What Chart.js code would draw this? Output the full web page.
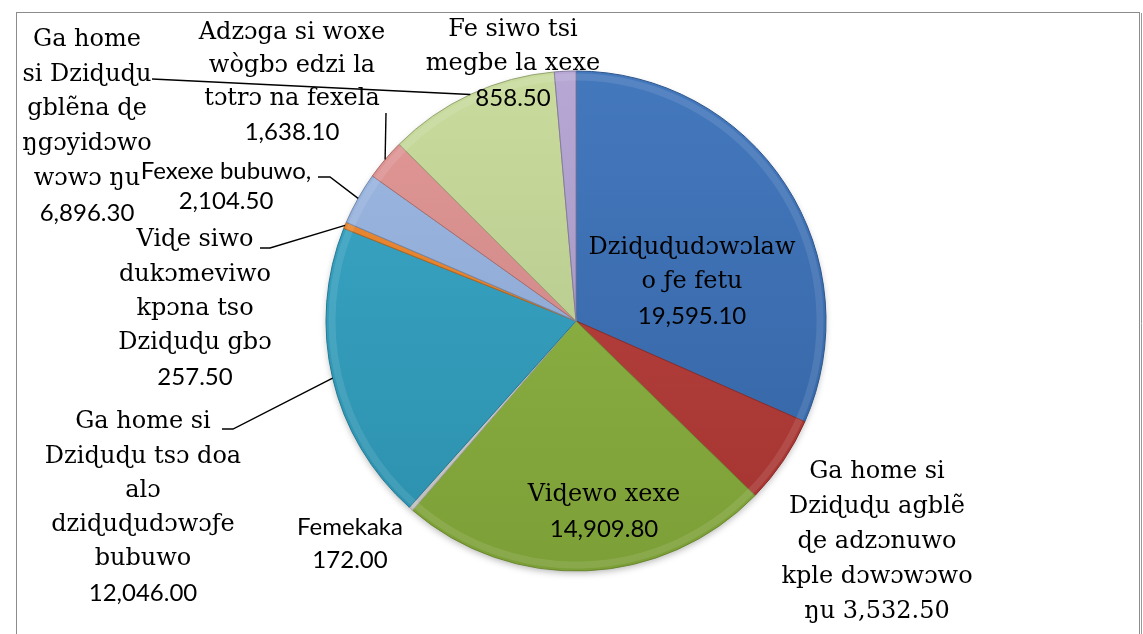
<!DOCTYPE html>
<html>
<head>
<meta charset="utf-8">
<script src="https://cdn.jsdelivr.net/npm/chart.js@4.4.1/dist/chart.umd.min.js"></script>
<style>
    html, body { margin: 0; padding: 0; background: #fff; }
    #wrap { width: 1143px; height: 634px; position: relative; }
</style>
</head>
<body>
<div id="wrap"><canvas id="pieChart" width="1143" height="634"></canvas></div>
<script>
// Slices, clockwise from 12 o'clock
const categories = [
    'Dziɖuɖudɔwɔlawo ƒe fetu',
    'Ga home si Dziɖuɖu agblẽ ɖe adzɔnuwo kple dɔwɔwɔwo ŋu',
    'Viɖewo xexe',
    'Femekaka',
    'Ga home si Dziɖuɖu tsɔ doa alɔ dziɖuɖudɔwɔƒe bubuwo',
    'Viɖe siwo dukɔmeviwo kpɔna tso Dziɖuɖu gbɔ',
    'Fexexe bubuwo',
    'Adzɔga si woxe wògbɔ edzi la tɔtrɔ na fexela',
    'Ga home si Dziɖuɖu gblẽna ɖe ŋgɔyidɔwo wɔwɔ ŋu',
    'Fe siwo tsi megbe la xexe'
];
const values = [19595.10, 3532.50, 14909.80, 172.00, 12046.00, 257.50, 2104.50, 1638.10, 6896.30, 858.50];

const sliceColors = [
    '#3a71b9', '#b93b37', '#8db53f', '#d6d6d6', '#31a3c4',
    '#f0862a', '#98b5e3', '#e09391', '#c6da98', '#b2a2d2'
];

const SERIF = '24px "DejaVu Serif"';
const SANS = '24px Lato';

// Where each data label sits (text lines as wrapped in the original)
const labelLayout = [
    { x: 692, y: 248, step: 34, font: SERIF, lines: ['Dziɖuɖudɔwɔlaw', 'o ƒe fetu'], value: 'newline' },
    { x: 877, y: 472, step: 35, font: SERIF, lines: ['Ga home si', 'Dziɖuɖu agblẽ', 'ɖe adzɔnuwo', 'kple dɔwɔwɔwo', 'ŋu'], value: 'inline' },
    { x: 604, y: 495, step: 34, font: SERIF, lines: ['Viɖewo xexe'], value: 'newline' },
    { x: 350, y: 527, step: 33, font: SANS, lines: ['Femekaka'], value: 'newline' },
    { x: 143, y: 422, step: 34.3, font: SERIF, lines: ['Ga home si', 'Dziɖuɖu tsɔ doa', 'alɔ', 'dziɖuɖudɔwɔƒe', 'bubuwo'], value: 'newline',
      leader: [[233, 429], [222, 429]] },
    { x: 195, y: 240, step: 34.3, font: SERIF, lines: ['Viɖe siwo', 'dukɔmeviwo', 'kpɔna tso', 'Dziɖuɖu gbɔ'], value: 'newline',
      leader: [[270, 248], [260, 248]] },
    { x: 226, y: 171, step: 30, font: SANS, lines: ['Fexexe bubuwo,'], value: 'newline',
      leader: [[330, 177], [318, 177]] },
    { x: 292, y: 33, step: 33, font: SERIF, lines: ['Adzɔga si woxe', 'wògbɔ edzi la', 'tɔtrɔ na fexela'], value: 'newline',
      leader: [[386, 113]] },
    { x: 87, y: 40, step: 34.6, font: SERIF, lines: ['Ga home', 'si Dziɖuɖu', 'gblẽna ɖe', 'ŋgɔyidɔwo', 'wɔwɔ ŋu'], value: 'newline',
      leader: [[152, 79]] },
    { x: 513, y: 30, step: 34, font: SERIF, lines: ['Fe siwo tsi', 'megbe la xexe'], value: 'newline' }
];

function fmt(v) {
    return v.toLocaleString('en-US', { minimumFractionDigits: 2, maximumFractionDigits: 2 });
}

function shade(hex, amt) {
    const n = parseInt(hex.slice(1), 16);
    let r = n >> 16, g = (n >> 8) & 255, b = n & 255;
    const t = amt < 0 ? 0 : 255, p = Math.abs(amt);
    r = Math.round(r + (t - r) * p);
    g = Math.round(g + (t - g) * p);
    b = Math.round(b + (t - b) * p);
    return `rgb(${r},${g},${b})`;
}

function sliceFill(context) {
    const base = sliceColors[context.dataIndex];
    const area = context.chart.chartArea;
    if (!area) return base;
    const cy = (area.top + area.bottom) / 2;
    const g = context.chart.ctx.createLinearGradient(0, cy - 250, 0, cy + 250);
    g.addColorStop(0, shade(base, 0.05));
    g.addColorStop(1, shade(base, -0.12));
    return g;
}

const framePlugin = {
    id: 'frame',
    beforeDraw(chart) {
        const ctx = chart.ctx;
        ctx.save();
        ctx.fillStyle = '#fff';
        ctx.fillRect(0, 0, chart.width, chart.height);
        ctx.strokeStyle = '#8c8c8c';
        ctx.lineWidth = 1;
        ctx.strokeRect(16.5, 12.5, 1123, 700);
        ctx.strokeStyle = '#9a9a9a';
        ctx.beginPath();
        ctx.moveTo(1141.5, 13);
        ctx.lineTo(1141.5, 634);
        ctx.stroke();
        ctx.restore();
    },
    beforeDatasetsDraw(chart) {
        // soft shadow under the pie
        const arc = chart.getDatasetMeta(0).data[0];
        if (!arc) return;
        const ctx = chart.ctx;
        ctx.save();
        ctx.shadowColor = 'rgba(0,0,0,0.3)';
        ctx.shadowBlur = 7;
        ctx.shadowOffsetY = 3;
        ctx.fillStyle = '#fff';
        ctx.beginPath();
        ctx.arc(arc.x, arc.y, arc.outerRadius - 1, 0, Math.PI * 2);
        ctx.fill();
        ctx.restore();
    },
    afterDatasetsDraw(chart) {
        const ctx = chart.ctx;
        const arcs = chart.getDatasetMeta(0).data;
        ctx.save();
        // bevel highlight near the rim
        arcs.forEach(a => {
            ctx.beginPath();
            ctx.arc(a.x, a.y, a.outerRadius - 6, a.startAngle, a.endAngle);
            ctx.strokeStyle = 'rgba(255,255,255,0.1)';
            ctx.lineWidth = 7;
            ctx.stroke();
        });

        ctx.fillStyle = '#000';
        ctx.strokeStyle = '#000';
        ctx.lineWidth = 1.4;
        ctx.textAlign = 'center';
        ctx.textBaseline = 'middle';

        labelLayout.forEach((lab, i) => {
            const a = arcs[i];
            if (lab.leader && a) {
                const mid = (a.startAngle + a.endAngle) / 2;
                ctx.beginPath();
                ctx.moveTo(a.x + Math.cos(mid) * a.outerRadius, a.y + Math.sin(mid) * a.outerRadius);
                lab.leader.forEach(p => ctx.lineTo(p[0], p[1]));
                ctx.stroke();
            }
            const lines = lab.lines.slice();
            let y = lab.y;
            if (lab.value === 'inline') {
                lines[lines.length - 1] += ' ' + fmt(values[i]);
            }
            ctx.font = lab.font;
            lines.forEach(t => {
                ctx.fillText(t, lab.x, y);
                y += lab.step;
            });
            if (lab.value === 'newline') {
                ctx.font = SANS;
                ctx.fillText(fmt(values[i]), lab.x, y);
            }
        });
        ctx.restore();
    }
};

new Chart(document.getElementById('pieChart'), {
    type: 'pie',
    data: {
        labels: categories,
        datasets: [{
            data: values,
            backgroundColor: sliceFill,
            borderColor: ctx => shade(sliceColors[ctx.dataIndex], -0.25),
            borderWidth: 1,
            radius: 250
        }]
    },
    options: {
        responsive: false,
        animation: false,
        layout: { padding: { top: 8, bottom: 0, left: 9, right: 0 } },
        plugins: {
            legend: { display: false },
            tooltip: { enabled: false },
            title: { display: false }
        }
    },
    plugins: [framePlugin]
});
</script>
</body>
</html>
